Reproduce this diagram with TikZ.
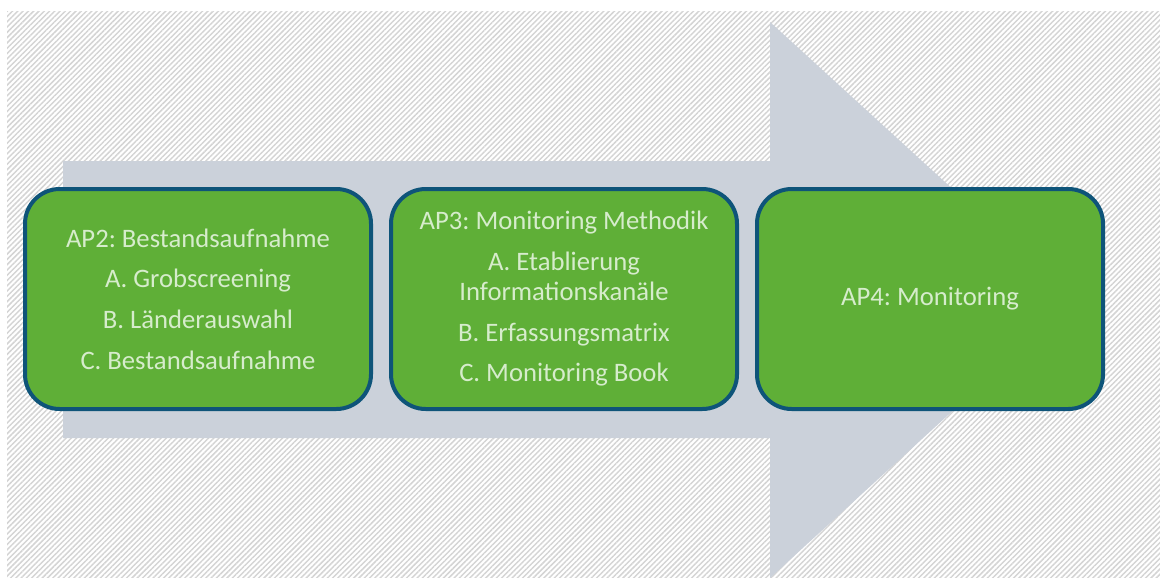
\documentclass[tikz,border=0pt]{standalone}
\usepackage{fontspec}
\setmainfont{Carlito}
\usepackage{xcolor}
\usepackage{tikz}
\usetikzlibrary{positioning, patterns.meta}
\definecolor{hatchgray}{HTML}{D4D4D4}
\definecolor{arrowgray}{HTML}{CBD1DA}
\definecolor{apgreen}{HTML}{5FAF37}
\definecolor{apborder}{HTML}{0E5479}
\definecolor{aptext}{HTML}{D6ECCC}
\tikzset{
    apbox/.style={draw=apborder, fill=apgreen, line width=3pt, rounded corners=26pt,
        minimum width=259.5pt, minimum height=165pt, outer sep=0pt,
        align=center, text=aptext, font=\fontsize{20}{22.5}\selectfont\frenchspacing},
}

\begin{document}
\begin{tikzpicture}[x=0.75pt, y=-0.75pt, node distance=15pt]

    \useasboundingbox (0,0) rectangle (1160,578);

    % Hatched background
    \fill[pattern={Lines[angle=45, distance=2.8pt, line width=1.1pt]}, pattern color=hatchgray]
        (7,11) rectangle (1160,578);

    % Big arrow
    \begin{scope}
        \clip (0,0) rectangle (1160,578);
        \fill[arrowgray] (63,161) -- (770,161) -- (770,22) -- (1074,300)
            -- (770,578) -- (770,438) -- (63,438) -- cycle;
    \end{scope}

    % Work packages
    \node[apbox] (ap2) at (198,299) {AP2: Bestandsaufnahme\\[8pt]
        A. Grobscreening\\[8pt]
        B. Länderauswahl\\[8pt]
        C. Bestandsaufnahme};
    \node[apbox, right=of ap2] (ap3) {AP3: Monitoring Methodik\\[8pt]
        A. Etablierung\\ Informationskanäle\\[8pt]
        B. Erfassungsmatrix\\[8pt]
        C. Monitoring Book};
    \node[apbox, right=of ap3] (ap4) {AP4: Monitoring};

\end{tikzpicture}
\end{document}
